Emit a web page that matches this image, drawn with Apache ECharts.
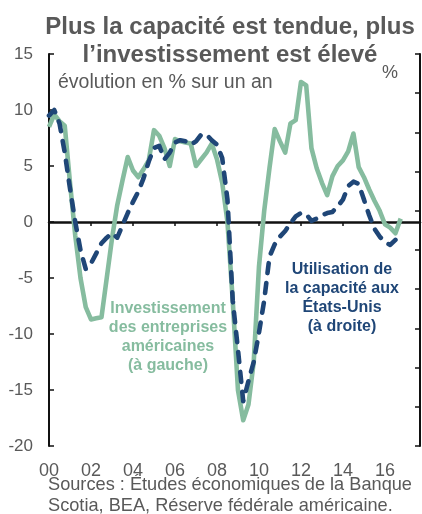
<!DOCTYPE html>
<html>
<head>
<meta charset="utf-8">
<title>Plus la capacité est tendue, plus l'investissement est élevé</title>
<script src="https://cdn.jsdelivr.net/npm/echarts@6.0.0/dist/echarts.min.js"></script>
<style>
  html, body { margin: 0; padding: 0; background: #fff; }
  #chart { width: 422px; height: 514px; }
</style>
</head>
<body>
<div id="chart"></div>
<script>
// données trimestrielles, 1er trim. 2000 -> 4e trim. 2016
var startYear = 2000
// investissement des entreprises américaines, % a/a (axe gauche)
var investissement = [
  8.5, 9.6, 9.0, 8.6,
  3.5, -1.2, -5.0, -7.6,
  -8.7, -8.6, -8.5, -5.0,
  -1.5, 1.5, 3.7, 5.8,
  4.6, 4.0, 4.7, 5.5,
  8.2, 7.7, 6.6, 5.0,
  7.4, 7.2, 7.1, 7.0,
  5.0, 5.6, 6.2, 7.0,
  5.6, 3.5, 0.0, -7.0,
  -15.0, -17.7, -16.3, -12.5,
  -4.0, 1.0, 4.8, 8.3,
  7.2, 6.2, 8.8, 9.1,
  12.5, 12.2, 6.6, 4.8,
  3.5, 2.4, 4.1, 5.0,
  5.5, 6.3, 7.9, 4.9,
  4.0, 2.9, 1.9, 1.0,
  -0.2, -0.5, -1.0, 0.3
]
// utilisation de la capacité aux États-Unis (axe droit, sans étiquettes)
var utilisation = [
  9.5, 10.0, 8.8, 6.2,
  3.0, 0.0, -2.5, -4.2,
  -3.7, -2.8, -1.9, -1.4,
  -1.0, -1.4, -0.3, 0.8,
  1.8, 2.7, 3.9, 5.4,
  6.6, 6.8, 5.6, 6.2,
  7.1, 7.3, 7.2, 6.9,
  7.2, 7.8, 7.8, 7.3,
  6.9, 5.7, 2.0, -7.0,
  -11.4, -16.0, -14.2, -12.5,
  -9.9, -7.0, -3.1, -2.0,
  -1.3, -0.8, -0.1, 0.5,
  0.8, 0.7, 0.1, 0.3,
  0.6, 0.8, 0.9, 1.4,
  2.0, 3.2, 3.6, 3.4,
  2.0, 0.6, -0.6, -1.3,
  -1.8, -2.05, -1.6
]
var yTicksLeft = [-20, -15, -10, -5, 0, 5, 10, 15]

var gris = '#595959'
var vert = '#86bc9f'
var bleu = '#1f4677'
var police = '"Liberation Sans", Arial, sans-serif'

function toPairs(values) {
  return values.map(function (v, i) { return [startYear + i / 4, v] })
}

var chart = echarts.init(document.getElementById('chart'))

var option = {
  animation: false,
  textStyle: { fontFamily: police },
  title: {
    text: 'Plus la capacité est tendue, plus\nl’investissement est élevé',
    left: 230,
    top: 13,
    padding: 0,
    textAlign: 'center',
    textStyle: { fontFamily: police, fontSize: 24, fontWeight: 'bold', color: gris, lineHeight: 28 }
  },
  grid: { left: 49, right: 2, top: 54, bottom: 68, outerBoundsMode: 'none' },
  xAxis: [
    {
      // étiquettes des années en bas
      type: 'value', position: 'bottom', min: 2000, max: 2017.67, interval: 2,
      axisLine: { show: false, onZero: false },
      axisTick: { show: false },
      splitLine: { show: false },
      axisLabel: {
        margin: 16, fontSize: 18, color: gris, fontFamily: police,
        formatter: function (v) { return v % 2 === 0 ? String(v).slice(2) : '' }
      }
    },
    {
      // ligne du zéro
      type: 'value', position: 'top', min: 2000, max: 2017.67, interval: 2,
      axisLine: { show: true, onZero: true, onZeroAxisIndex: 0, lineStyle: { color: '#111', width: 2.5 } },
      axisTick: { show: true, inside: true, length: 4, lineStyle: { color: '#111', width: 1.5 } },
      splitLine: { show: false },
      axisLabel: { show: false }
    }
  ],
  yAxis: [
    {
      type: 'value', position: 'left',
      min: yTicksLeft[0], max: yTicksLeft[yTicksLeft.length - 1], interval: 5,
      axisLine: { show: true, onZero: false, lineStyle: { color: '#111', width: 2 } },
      axisTick: { show: true, inside: true, length: 5, lineStyle: { color: '#111', width: 1.5 } },
      splitLine: { show: false },
      axisLabel: { margin: 16, fontSize: 17, color: gris, fontFamily: police }
    },
    {
      type: 'value', position: 'right', min: -20, max: 15, interval: 3.5,
      axisLine: { show: true, onZero: false, lineStyle: { color: '#111', width: 2 } },
      axisTick: { show: true, inside: true, length: 5, lineStyle: { color: '#111', width: 1.5 } },
      splitLine: { show: false },
      axisLabel: { show: false }
    }
  ],
  series: [
    {
      name: 'Investissement des entreprises américaines',
      type: 'line', xAxisIndex: 0, yAxisIndex: 0,
      data: toPairs(investissement),
      symbol: 'none',
      lineStyle: { color: vert, width: 4.6, join: 'round' },
      z: 3
    },
    {
      name: 'Utilisation de la capacité aux États-Unis',
      type: 'line', xAxisIndex: 0, yAxisIndex: 1,
      data: toPairs(utilisation),
      symbol: 'none',
      lineStyle: { color: bleu, width: 4.6, type: [10, 10], cap: 'round', join: 'round' },
      z: 4
    }
  ],
  graphic: [
    {
      type: 'text', left: 58, top: 73,
      style: { text: 'évolution en % sur un an', font: '19.5px ' + police, fill: gris }
    },
    {
      type: 'text', left: 382, top: 64,
      style: { text: '%', font: '18px ' + police, fill: gris }
    },
    {
      type: 'text', x: 168, y: 299,
      style: {
        text: 'Investissement\ndes entreprises\naméricaines\n(à gauche)',
        font: 'bold 16px ' + police, fill: vert, align: 'center', lineHeight: 19
      }
    },
    {
      type: 'text', x: 342, y: 260,
      style: {
        text: 'Utilisation de\nla capacité aux\nÉtats-Unis\n(à droite)',
        font: 'bold 16px ' + police, fill: bleu, align: 'center', lineHeight: 19
      }
    },
    {
      type: 'text', left: 48, top: 474,
      style: {
        text: 'Sources : Études économiques de la Banque\nScotia, BEA, Réserve fédérale américaine.',
        font: '18.2px ' + police, fill: gris, lineHeight: 21
      }
    }
  ]
}

chart.setOption(option)
</script>
</body>
</html>
